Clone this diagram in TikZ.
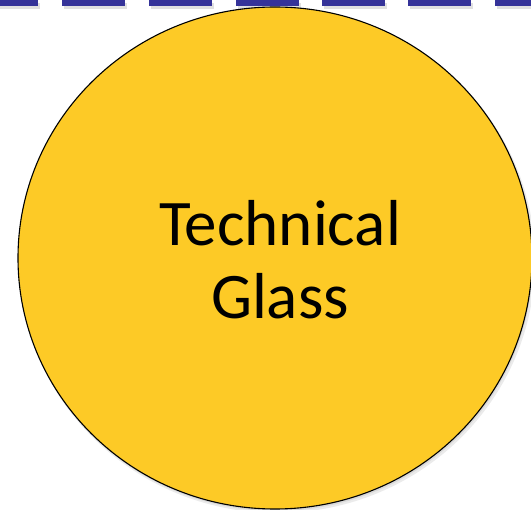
\documentclass[tikz,border=0pt]{standalone}
\usepackage{fontspec}
\usetikzlibrary{shapes.geometric}
\setmainfont{Carlito}
\definecolor{dashblue}{HTML}{353399}
\definecolor{glassyellow}{HTML}{FDCA26}
\tikzset{
  topdash/.style={fill=dashblue},
  dashshadow/.style={fill=black, opacity=0.12},
  glass/.style={draw=black, line width=1.1pt, fill=glassyellow},
}
\begin{document}
\begin{tikzpicture}[x=1pt,y=-1pt]
\useasboundingbox (0,0) rectangle (531,510);
\begin{scope}
\clip (0,0) rectangle (531,510);
% top dashed band with shadow
\foreach \x in {-25,62,149,236,322,408,495} {
  \fill[dashshadow] (\x+2,3) rectangle (\x+65,9);
  \fill[topdash] (\x,0) rectangle (\x+63,6);
}
% ellipse shadow
\fill[black, opacity=0.08] (277,261) ellipse [x radius=258, y radius=252];
\fill[black, opacity=0.08] (276,260) ellipse [x radius=257, y radius=251];
\node[glass, ellipse, minimum width=514pt, minimum height=502pt, inner sep=0pt] (circ) at (275,258) {};
\end{scope}
\node[font=\fontsize{65}{73}\selectfont, align=center, text=black] (label) at (280,260) {Technical\\Glass};
\end{tikzpicture}
\end{document}
